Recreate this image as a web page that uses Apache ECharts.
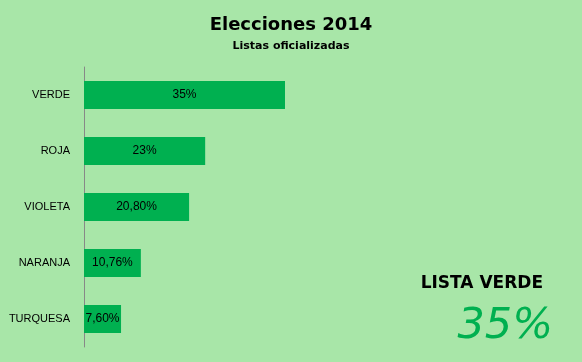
<!DOCTYPE html>
<html><head><meta charset="utf-8">
<script src="https://cdn.jsdelivr.net/npm/echarts@6/dist/echarts.min.js"></script>
<style>html,body{margin:0;padding:0;background:#a8e6a8}#c{width:582px;height:362px}</style>
</head><body><div id="c"></div>
<script>
const categories = ['VERDE', 'ROJA', 'VIOLETA', 'NARANJA', 'TURQUESA'];
const values = [35, 21.1, 18.3, 9.9, 6.45];
const valueLabels = ['35%', '23%', '20,80%', '10,76%', '7,60%'];

const chart = echarts.init(document.getElementById('c'));
chart.setOption({
  backgroundColor: '#a8e6a8',
  animation: false,
  title: [
    {text: 'Elecciones 2014', left: 'center', top: 11,
     textStyle: {fontFamily: 'DejaVu Sans', fontWeight: 'bold', fontSize: 18, color: '#000'}},
    {text: 'Listas oficializadas', left: 'center', top: 36,
     textStyle: {fontFamily: 'DejaVu Sans', fontWeight: 'bold', fontSize: 11, color: '#000'}},
    {text: 'LISTA VERDE', right: 34, top: 270,
     textStyle: {fontFamily: 'DejaVu Sans', fontWeight: 'bold', fontSize: 17, color: '#000'}},
    {text: '35%', right: 24, top: 300,
     textStyle: {fontFamily: 'DejaVu Sans', fontStyle: 'italic', fontWeight: 'normal', fontSize: 43, color: '#00b050'}}
  ],
  grid: {left: 84, top: 67, width: 201, height: 280, containLabel: false},
  xAxis: {type: 'value', min: 0, max: 35, show: false},
  yAxis: {
    type: 'category', data: categories, inverse: true,
    axisLine: {show: true, lineStyle: {color: '#888', width: 1}},
    axisTick: {show: false},
    axisLabel: {margin: 14, color: '#000', fontFamily: 'Liberation Sans', fontSize: 11}
  },
  series: [{
    type: 'bar', data: values, barCategoryGap: '50%',
    itemStyle: {color: '#00b050'},
    label: {show: true, position: 'inside', color: '#000', fontFamily: 'Liberation Sans', fontSize: 12,
      formatter: p => valueLabels[p.dataIndex]}
  }]
});
</script></body></html>
